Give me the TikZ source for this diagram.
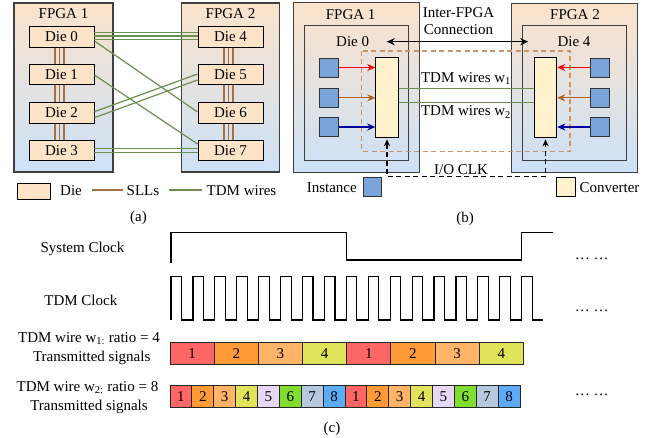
\documentclass[tikz,border=0pt]{standalone}
\usepackage{fontspec}
\setmainfont{Liberation Serif}
\usetikzlibrary{arrows.meta,calc}
\definecolor{fpgatop}{HTML}{FBE3CC}
\definecolor{fpgabot}{HTML}{CCE1F7}
\definecolor{diefill}{HTML}{FDE3C8}
\definecolor{sllc}{HTML}{A47043}
\definecolor{tdmc}{HTML}{6B8F4E}
\definecolor{instc}{HTML}{79A5DA}
\definecolor{convc}{HTML}{FFF2CC}
\definecolor{tanc}{HTML}{C99564}
\definecolor{arrbrown}{HTML}{B0611C}
\definecolor{arrblue}{HTML}{00009C}
\definecolor{sig1}{HTML}{FF6666}
\definecolor{sig2}{HTML}{FF9A36}
\definecolor{sig3}{HTML}{FFB468}
\definecolor{sig4}{HTML}{E0E45A}
\definecolor{sig5}{HTML}{E8D8F8}
\definecolor{sig6}{HTML}{80DC2E}
\definecolor{sig7}{HTML}{B6C8DE}
\definecolor{sig8}{HTML}{5DAAF7}
\begin{document}
\begin{tikzpicture}[x=1pt,y=-1pt,
  font=\fontsize{15}{17.5}\selectfont,
  fpga/.style={draw=black!75, line width=1.1pt, top color=fpgatop, bottom color=fpgabot, inner sep=0pt},
  diebox/.style={draw=black, line width=0.9pt, fill=diefill, minimum width=65, minimum height=20.5, inner sep=0pt},
  dieouter/.style={draw=black!75, line width=1pt, inner sep=0pt, minimum width=104.5, minimum height=135},
  inst/.style={draw=black!80, line width=0.9pt, fill=instc, minimum width=19, minimum height=19, inner sep=0pt},
  conv/.style={draw=black, line width=0.9pt, fill=convc, minimum width=22.6, minimum height=79.6, inner sep=0pt},
  sll/.style={draw=sllc, line width=1.4pt},
  tdm/.style={draw=tdmc, line width=1.2pt},
  feed/.style={-{Stealth[length=8pt,width=7pt]}, line width=1.1pt},
  clk/.style={draw=black, line width=1.2pt, dash pattern=on 5pt off 3.5pt},
  cell/.style={draw=black!85, line width=0.9pt, inner sep=0pt},
  txt/.style={inner sep=0pt}
]
\useasboundingbox (0,0) rectangle (656,438);

% ================= (a) =================
\node[fpga, minimum width=99, minimum height=169] (fa1) at (63.5,87.5) {};
\node[fpga, minimum width=97.5, minimum height=169] (fa2) at (230.4,87.5) {};
\node[txt] (fa1t) at (63.5,13.5) {FPGA 1};
\node[txt] (fa2t) at (230.5,13.5) {FPGA 2};
\node[diebox] (d0) at (61.5,37) {Die 0};
\node[diebox] (d1) at (61.5,74.5) {Die 1};
\node[diebox] (d2) at (61.5,113) {Die 2};
\node[diebox] (d3) at (61.5,150.5) {Die 3};
\node[diebox] (d4) at (230.5,37) {Die 4};
\node[diebox] (d5) at (230.5,74.5) {Die 5};
\node[diebox] (d6) at (230.5,113) {Die 6};
\node[diebox] (d7) at (230.5,150.5) {Die 7};
\foreach \s in {-6.5,-2,2.5}{
  \draw[sll] ([xshift=\s]d0.south) -- ([xshift=\s]d1.north);
  \draw[sll] ([xshift=\s]d1.south) -- ([xshift=\s]d2.north);
  \draw[sll] ([xshift=\s]d2.south) -- ([xshift=\s]d3.north);
  \draw[sll] ([xshift=\s]d4.south) -- ([xshift=\s]d5.north);
  \draw[sll] ([xshift=\s]d5.south) -- ([xshift=\s]d6.north);
  \draw[sll] ([xshift=\s]d6.south) -- ([xshift=\s]d7.north);
}
\foreach \s in {4.5,1,-2.5}{
  \draw[tdm] ([yshift=\s]d0.east) -- ([yshift=\s]d4.west);
}
\draw[tdm] ([yshift=-4]d0.east) -- ([yshift=1]d6.west);
\draw[tdm] ([yshift=-0.5]d1.east) -- ([yshift=6.5]d7.west);
\draw[tdm] ([yshift=1.3]d2.east) -- ([yshift=0.5]d5.west);
\draw[tdm] ([yshift=-4.7]d2.east) -- ([yshift=-5.5]d5.west);
\draw[tdm] ([yshift=2.2]d3.east) -- ([yshift=2.2]d7.west);
\draw[tdm] ([yshift=-2.2]d3.east) -- ([yshift=-2.2]d7.west);
% legend (a)
\node[diebox, minimum width=33, minimum height=16] (legdie) at (33.5,191) {};
\node[txt, anchor=west] (legdiet) at (60,191) {Die};
\coordinate (sllA) at (92,190);
\coordinate (sllB) at (123,190);
\draw[sll, line width=1.2pt] (sllA) -- (sllB);
\node[txt, anchor=west] (legsllt) at (126.5,191) {SLLs};
\coordinate (tdmA) at (169,190);
\coordinate (tdmB) at (202,190);
\draw[tdm] (tdmA) -- (tdmB);
\node[txt, anchor=west] (legtdmt) at (206.5,191) {TDM wires};
\node[txt] (capa) at (138.5,218) {(a)};

% ================= (b) =================
\node[fpga, minimum width=126, minimum height=169.6] (fb1) at (356.3,87.5) {};
\node[fpga, minimum width=126, minimum height=169.4] (fb2) at (574.7,88) {};
\node[txt] (fb1t) at (350.7,15) {FPGA 1};
\node[txt] (fb2t) at (575,15) {FPGA 2};
\node[dieouter] (die0b) at (356.7,93.5) {};
\node[dieouter, minimum width=104] (die4b) at (574.7,93.5) {};
\node[txt] (die0t) at (352.7,41.7) {Die 0};
\node[txt] (die4t) at (574,41.7) {Die 4};
\draw[draw=tanc, line width=1.2pt, dash pattern=on 5pt off 3.5pt] (361.7,51) rectangle (570,151.7);
\node[conv] (cv1) at (387,97.5) {};
\node[conv] (cv2) at (545.5,97.5) {};
\node[inst] (i1) at (328.7,67.5) {};
\node[inst] (i2) at (328.7,97.8) {};
\node[inst] (i3) at (328.7,127) {};
\node[inst] (j1) at (600.3,67.5) {};
\node[inst] (j2) at (600.3,97.8) {};
\node[inst] (j3) at (600.3,127) {};
\draw[feed, red] (i1.east) -- (cv1.west |- i1.east);
\draw[feed, arrbrown] (i2.east) -- (cv1.west |- i2.east);
\draw[feed, arrblue] (i3.east) -- (cv1.west |- i3.east);
\draw[feed, red] (j1.west) -- (cv2.east |- j1.west);
\draw[feed, arrbrown] (j2.west) -- (cv2.east |- j2.west);
\draw[feed, arrblue] (j3.west) -- (cv2.east |- j3.west);
\draw[tdm] ([yshift=8.8]cv1.east) -- ([yshift=8.8]cv2.west);
\draw[tdm] ([yshift=-5]cv1.east) -- ([yshift=-5]cv2.west);
\node[txt] (w1t) at (466,78.5) {TDM wires w\textsubscript{1}};
\node[txt] (w2t) at (466,112) {TDM wires w\textsubscript{2}};
\coordinate (icL) at (386.7,41.7);
\coordinate (icR) at (528.3,41.7);
\draw[{Stealth[length=8pt,width=7pt]}-{Stealth[length=8pt,width=7pt]}, line width=1.4pt] (icL) -- (icR);
\node[txt, align=center] (ict) at (458.5,21) {Inter-FPGA\\[-1pt]Connection};
\coordinate (clkline) at (0,176.7);
\draw[clk, {Stealth[length=7pt,width=6pt]}-{Stealth[length=7pt,width=6pt]}, shorten <=1.5pt, shorten >=1.5pt]
  (cv1.south) -- (cv1.south |- clkline) -- (cv2.south |- clkline) -- (cv2.south);
\node[txt, anchor=south] (clkt) at (461,175) {I/O CLK};
\node[inst, minimum width=18.5] (leginst) at (372.5,187.2) {};
\node[txt, anchor=east] (leginstt) at (357,187.5) {Instance};
\node[conv, minimum width=18.3, minimum height=19] (legconv) at (565.8,187.2) {};
\node[txt, anchor=west] (legconvt) at (579.3,187.5) {Converter};
\node[txt] (capb) at (465,219) {(b)};

% ================= (c) =================
\node[txt] (sysl) at (82.5,249.3) {System Clock};
\node[txt] (tdml) at (80.8,300) {TDM Clock};
\draw[line width=1.2pt] (171,262.7) -- (171,232.7) -- (346.3,232.7) -- (346.3,260) -- (521.7,260) -- (521.7,232.7) -- (553.3,232.7);
\draw[line width=1.2pt, line join=miter] (171,320)
  foreach \k in {0,...,16} { -- ({171+\k*21.92},320) -- ({171+\k*21.92},276.7) -- ({181.5+\k*21.92},276.7) -- ({181.5+\k*21.92},320) }
  -- (542.7,320);
\node[txt] (dots1) at (591.7,259.3) {\dots\ \dots};
\node[txt] (dots2) at (591.7,310.7) {\dots\ \dots};
\node[txt] (w1l) at (89,338.3) {TDM wire w\textsubscript{1:} ratio = 4};
\node[txt] (w1s) at (91.7,358.3) {Transmitted signals};
\node[txt] (w2l) at (87.5,387.7) {TDM wire w\textsubscript{2:} ratio = 8};
\node[txt] (w2s) at (89,407.3) {Transmitted signals};
\foreach \k in {0,...,7}{
  \pgfmathtruncatemacro{\n}{mod(\k,4)+1}
  \node[cell, fill=sig\n, minimum width=44.17, minimum height=21.7] (wa\k) at ({170+44.17*(\k+0.5)},353.15) {\n};
}
\foreach \k in {0,...,15}{
  \pgfmathtruncatemacro{\n}{mod(\k,8)+1}
  \node[cell, fill=sig\n, minimum width=21.875, minimum height=22] (wb\k) at ({170+21.875*(\k+0.5)},396.7) {\n};
}
\node[txt] (dots3) at (591.7,395) {\dots\ \dots};
\node[txt] (capc) at (332,429) {(c)};
\end{tikzpicture}
\end{document}
